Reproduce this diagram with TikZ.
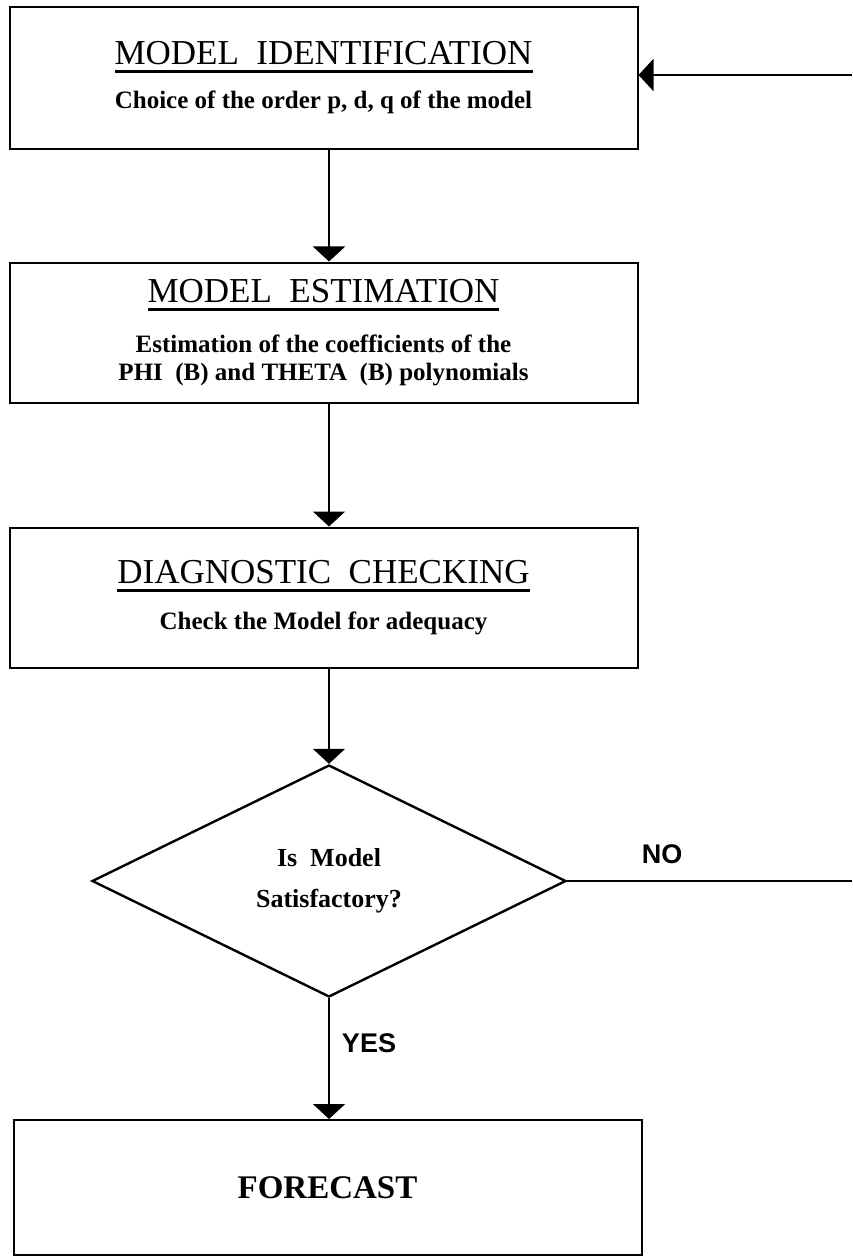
\documentclass[tikz,border=0pt]{standalone}
\usepackage{fontspec}
\setmainfont{Liberation Serif}
\newfontfamily\answerfont{Liberation Sans}
\usetikzlibrary{arrows.meta,shapes.geometric}

\newcommand{\uline}[1]{\setbox0\hbox{#1}\vtop{\copy0\kern2.5pt\hrule height1.4pt}}
\newcommand{\titlefont}{\fontsize{17.5}{20}\selectfont}
\newcommand{\subfont}{\fontsize{12.5}{14}\selectfont\bfseries}

\begin{document}
\begin{tikzpicture}[
                    x=0.5pt, y=-0.5pt,
                    box style/.style={
                        rectangle,
                        draw=black,
                        line width=1pt,
                        minimum width=314pt,
                        minimum height=70pt,
                        align=center,
                        inner sep=0pt,
                        font=\fontsize{12.5}{14}\selectfont
                    },
                    decision style/.style={
                        diamond,
                        draw=black,
                        line width=1.2pt,
                        aspect=2,
                        minimum width=237pt,
                        minimum height=116pt,
                        inner sep=0pt,
                        align=center,
                        font=\fontsize{13}{14}\selectfont\bfseries
                    },
                    answer style/.style={
                        anchor=base,
                        inner sep=0pt,
                        font=\answerfont\bfseries\fontsize{13.5}{16}\selectfont
                    },
                    flow style/.style={draw, line width=1pt, -{Triangle[width=16pt,length=7.5pt]}},
                    link style/.style={draw, line width=1.2pt}
                ]
    \useasboundingbox (0,0) rectangle (852,1257);

    \node[box style, minimum height=71pt] (ident) at (323.5,78)
        {{\titlefont\uline{MODEL\ \ IDENTIFICATION}}\\[8pt]
         {\subfont Choice of the order p, d, q of the model}};
    \node[box style] (estim) at (323.5,332.5)
        {{\titlefont\uline{MODEL\ \ ESTIMATION}}\\[11pt]
         {\subfont Estimation of the coefficients of the}\\
         {\subfont PHI\ \ (B) and THETA\ \ (B) polynomials}};
    \node[box style] (check) at (323.5,597.5)
        {{\titlefont\uline{DIAGNOSTIC\ \ CHECKING}}\\[9pt]
         {\subfont Check the Model for adequacy}};
    \node[decision style] (satis) at (329,881)
        {Is\ \ Model\\[6.5pt]Satisfactory?};
    \node[box style, minimum height=67.5pt] (fcast) at (327.5,1187.5)
        {\fontsize{16.5}{20}\selectfont\bfseries FORECAST};

    \node[answer style] (no) at (662,863) {NO};
    \node[answer style] (yes) at (369,1052) {YES};

    \coordinate (back in) at (852,75);
    \coordinate (back out) at (852,881);

    % main flow
    \draw[flow style] (ident.south -| satis.north) -- (estim.north -| satis.north);
    \draw[flow style] (estim.south -| satis.north) -- (check.north -| satis.north);
    \draw[flow style] (check.south -| satis.north) -- (satis.north);
    \draw[flow style] (satis.south) -- (fcast.north -| satis.south);

    % loop back
    \draw[link style] (satis.east) -- (back out);
    \draw[flow style] (back in) -- (back in -| ident.east);
\end{tikzpicture}
\end{document}
